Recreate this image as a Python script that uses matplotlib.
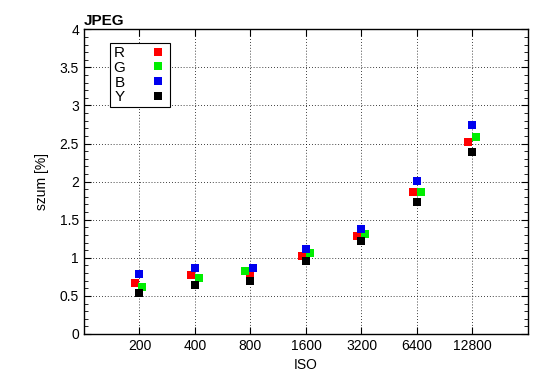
import matplotlib.pyplot as plt
from matplotlib.ticker import MultipleLocator, FuncFormatter

plt.rcParams['font.family'] = ['Liberation Sans', 'DejaVu Sans']

iso = ['200', '400', '800', '1600', '3200', '6400', '12800']
r = [0.67, 0.77, 0.78, 1.03, 1.29, 1.86, 2.52]
g = [0.62, 0.74, 0.83, 1.06, 1.31, 1.87, 2.59]
b = [0.79, 0.87, 0.86, 1.11, 1.38, 2.01, 2.74]
y = [0.54, 0.64, 0.70, 0.96, 1.22, 1.73, 2.39]
# small horizontal shifts of each channel around the ISO position
r_dx = [-0.08, -0.08, 0.0, -0.08, -0.08, -0.08, -0.08]
g_dx = [0.05, 0.08, -0.09, 0.07, 0.07, 0.07, 0.07]
b_dx = [0.0, 0.0, 0.05, 0.0, 0.0, 0.0, 0.0]
y_dx = [0.0, 0.0, 0.0, 0.0, 0.0, 0.0, 0.0]

pos = list(range(1, len(iso) + 1))

fig = plt.figure(figsize=(5.5, 3.89), dpi=100)
ax = fig.add_axes([0.1527, 0.1414, 0.8073, 0.7833])

for vals, dx, col, lab in [(r, r_dx, '#ff0000', 'R'), (g, g_dx, '#00ee00', 'G'),
                           (b, b_dx, '#0000ee', 'B'), (y, y_dx, '#000000', 'Y')]:
    ax.plot([p + d for p, d in zip(pos, dx)], vals, 's', color=col,
            markersize=5.8, markeredgewidth=0, label=lab)

ax.set_xlim(0, 8)
ax.set_ylim(0, 4)
ax.set_xticks(pos)
ax.xaxis.set_major_formatter(FuncFormatter(lambda v, p: iso[int(round(v)) - 1]))
ax.yaxis.set_major_locator(MultipleLocator(0.5))
ax.yaxis.set_minor_locator(MultipleLocator(0.1))
ax.yaxis.set_major_formatter(FuncFormatter(lambda v, p: f'{v:g}'))
ax.tick_params(direction='in', which='both', top=True, right=True, labelsize=10)
ax.tick_params(which='major', length=5)
ax.tick_params(which='minor', length=3)
ax.grid(True, which='major', color='black', linestyle=(0, (1, 2.5)), linewidth=0.6)
for s in ax.spines.values():
    s.set_linewidth(1.0)

ax.set_xlabel('ISO', fontsize=10)
ax.set_ylabel('szum [%]', fontsize=10, labelpad=8)
ax.set_title('JPEG', loc='left', fontweight='bold', fontsize=11, pad=3)

leg = ax.legend(loc='upper left', bbox_to_anchor=(0.058, 0.955), markerfirst=False,
                fancybox=False, edgecolor='black', framealpha=1, fontsize=11,
                handletextpad=1.6, labelspacing=0.05, borderpad=0.2, handlelength=1.2,
                borderaxespad=0)
leg.get_frame().set_linewidth(0.8)

fig.savefig('out.png', dpi=100)
